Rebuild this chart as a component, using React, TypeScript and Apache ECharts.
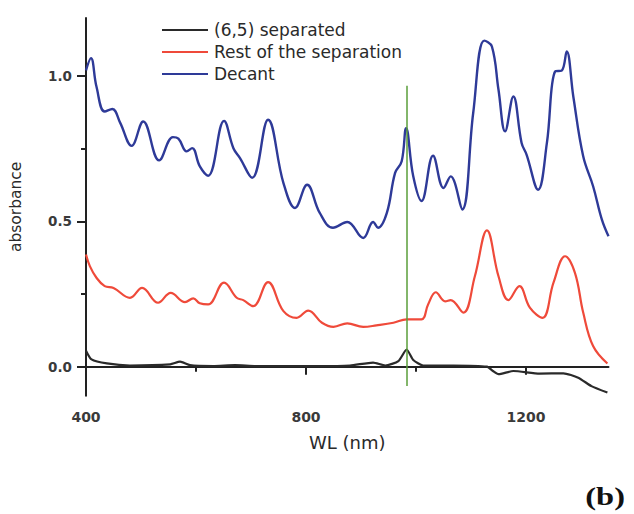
import React, { useEffect, useRef } from "react";
import * as echarts from "echarts";

// ---- data ----
const decantWl = [400, 409, 419, 434, 448, 462, 483, 504, 533, 558, 568, 583, 593, 607, 622, 651, 668, 680, 702, 731, 759, 780, 802, 825, 849, 875, 904, 922, 931, 947, 962, 974, 982, 995, 1010, 1031, 1050, 1063, 1084, 1104, 1124, 1138, 1150, 1162, 1177, 1192, 1201, 1222, 1238, 1253, 1265, 1274, 1286, 1304, 1322, 1338, 1350];
const decantAbs = [1.02, 1.062, 0.964, 0.878, 0.887, 0.84, 0.76, 0.844, 0.71, 0.79, 0.785, 0.741, 0.752, 0.689, 0.657, 0.846, 0.752, 0.718, 0.65, 0.85, 0.632, 0.546, 0.626, 0.529, 0.478, 0.498, 0.443, 0.498, 0.478, 0.529, 0.667, 0.707, 0.821, 0.655, 0.57, 0.726, 0.615, 0.655, 0.541, 0.873, 1.122, 1.102, 0.953, 0.81, 0.93, 0.77, 0.73, 0.609, 0.77, 1.016, 1.019, 1.085, 0.93, 0.724, 0.621, 0.506, 0.449];

const restWl = [400, 407, 419, 434, 450, 480, 502, 531, 554, 580, 595, 607, 622, 651, 674, 686, 704, 731, 759, 783, 804, 829, 850, 875, 904, 928, 959, 983, 1010, 1022, 1036, 1053, 1063, 1086, 1107, 1129, 1150, 1168, 1188, 1207, 1230, 1250, 1271, 1289, 1304, 1322, 1348];
const restAbs = [0.386, 0.346, 0.306, 0.277, 0.271, 0.237, 0.271, 0.22, 0.254, 0.222, 0.235, 0.218, 0.214, 0.289, 0.237, 0.229, 0.208, 0.291, 0.191, 0.168, 0.193, 0.151, 0.137, 0.149, 0.137, 0.142, 0.151, 0.163, 0.163, 0.214, 0.256, 0.225, 0.229, 0.186, 0.311, 0.469, 0.311, 0.229, 0.277, 0.203, 0.168, 0.289, 0.38, 0.323, 0.186, 0.071, 0.011];

const sepWl = [400, 410, 438, 480, 553, 571, 589, 631, 671, 710, 820, 880, 922, 944, 968, 983, 995, 1013, 1068, 1129, 1140, 1150, 1177, 1225, 1268, 1295, 1319, 1348];
const sepAbs = [0.055, 0.025, 0.011, 0.004, 0.008, 0.017, 0.005, 0.002, 0.005, 0.002, 0.002, 0.004, 0.014, 0.004, 0.019, 0.059, 0.023, 0.004, 0.004, 0.0, -0.015, -0.026, -0.015, -0.024, -0.023, -0.038, -0.067, -0.089];

const seriesNames = ["(6,5) separated", "Rest of the separation", "Decant"];
const xMajorTicks = [400, 800, 1200];
const xMinorTicks = [600, 1000];
const yMajorTicks = [0, 0.5, 1.0];
const yMinorTicks = [0.25, 0.75];
const markerWl = 983;
const markerRange = [-0.067, 0.967];

const zip = (xs: number[], ys: number[]) => xs.map((x, i) => [x, ys[i]]);

const FONT = "DejaVu Sans";

export default function App() {
  const ref = useRef<HTMLDivElement>(null);
  useEffect(() => {
    if (!ref.current) return;
    const chart = echarts.init(ref.current, undefined, { renderer: "svg" });
    const xBase = { type: "value", min: 400, max: 1350, splitLine: { show: false } };
    const yBase = { type: "value", min: -0.1, max: 1.2, splitLine: { show: false } };
    chart.setOption({
      animation: false,
      backgroundColor: "#ffffff",
      grid: { left: 86, right: 25.5, top: 18, bottom: 118.3, containLabel: false },
      legend: {
        orient: "vertical",
        left: 157,
        top: 14,
        icon: "rect",
        itemWidth: 46,
        itemHeight: 2,
        itemGap: 0,
        data: seriesNames,
        textStyle: { fontFamily: FONT, fontSize: 17, lineHeight: 22, color: "#2a2a2a", padding: [0, 0, 0, 1] },
      },
      xAxis: [
        {
          ...xBase,
          name: "WL (nm)",
          nameLocation: "middle",
          nameGap: 38,
          nameTextStyle: { fontFamily: FONT, fontSize: 18, color: "#2a2a2a" },
          axisLine: { show: true, lineStyle: { color: "#222", width: 2 } },
          axisTick: { show: true, inside: false, length: 8, customValues: xMajorTicks, lineStyle: { color: "#222", width: 2 } },
          axisLabel: {
            customValues: xMajorTicks,
            margin: 14,
            fontFamily: FONT,
            fontSize: 14,
            fontWeight: "bold",
            color: "#3a3a3a",
            formatter: (v: number) => String(v),
          },
        },
        {
          ...xBase,
          position: "bottom",
          axisLine: { show: false },
          axisTick: { show: true, inside: false, length: 5, customValues: xMinorTicks, lineStyle: { color: "#222", width: 2 } },
          axisLabel: { show: false },
        },
      ],
      yAxis: [
        {
          ...yBase,
          name: "absorbance",
          nameLocation: "middle",
          nameGap: 62,
          nameTextStyle: { fontFamily: FONT, fontSize: 15.5, color: "#2a2a2a" },
          axisLine: { show: true, lineStyle: { color: "#222", width: 2 } },
          axisTick: { show: true, inside: false, length: 9, customValues: yMajorTicks, lineStyle: { color: "#222", width: 2 } },
          axisLabel: {
            customValues: yMajorTicks,
            margin: 14,
            fontFamily: FONT,
            fontSize: 13.5,
            fontWeight: "bold",
            color: "#3a3a3a",
            formatter: (v: number) => v.toFixed(1),
          },
        },
        {
          ...yBase,
          position: "left",
          axisLine: { show: false },
          axisTick: { show: true, inside: false, length: 5, customValues: yMinorTicks, lineStyle: { color: "#222", width: 2 } },
          axisLabel: { show: false },
        },
      ],
      series: [
        {
          name: seriesNames[0],
          type: "line",
          data: zip(sepWl, sepAbs),
          smooth: 0.2,
          showSymbol: false,
          color: "#2a2a2a",
          lineStyle: { width: 2.2, color: "#2a2a2a" },
          z: 3,
          markLine: {
            silent: true,
            symbol: "none",
            label: { show: false },
            lineStyle: { color: "#5a9e3a", width: 1.5, type: "solid" },
            data: [[{ coord: [markerWl, markerRange[0]] }, { coord: [markerWl, markerRange[1]] }]],
          },
        },
        {
          name: seriesNames[1],
          type: "line",
          data: zip(restWl, restAbs),
          smooth: 0.4,
          showSymbol: false,
          color: "#ef4a3a",
          lineStyle: { width: 2.2, color: "#ef4a3a" },
        },
        {
          name: seriesNames[2],
          type: "line",
          data: zip(decantWl, decantAbs),
          smooth: 0.4,
          showSymbol: false,
          color: "#2e3a98",
          lineStyle: { width: 2.4, color: "#2e3a98" },
        },
      ],
      graphic: [
        {
          type: "text",
          x: 625,
          y: 496,
          scaleX: 1.25,
          style: {
            text: "(b)",
            font: 'bold 26px "Liberation Serif"',
            fill: "#111",
            textAlign: "right",
            textVerticalAlign: "middle",
          },
        },
      ],
    });
    return () => chart.dispose();
  }, []);
  return <div ref={ref} style={{ width: 634, height: 514, position: "absolute", left: 0, top: 0 }} />;
}
